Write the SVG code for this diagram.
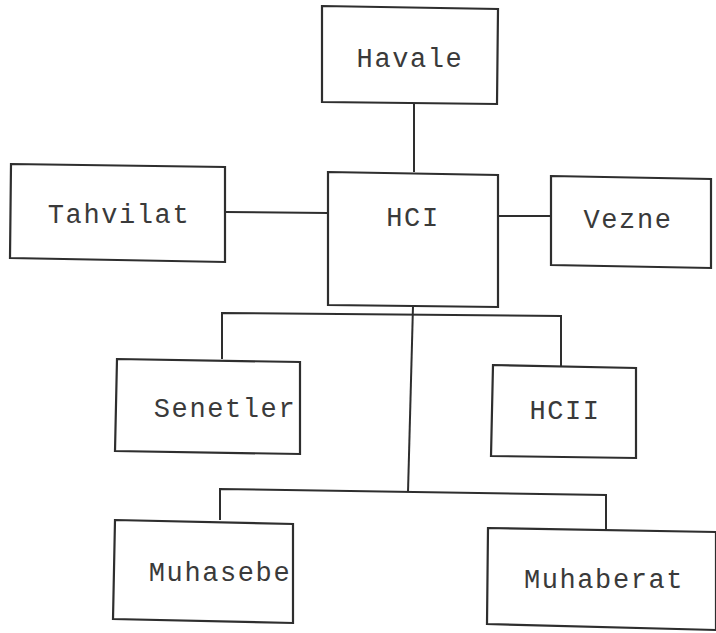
<svg xmlns="http://www.w3.org/2000/svg" width="716" height="633" viewBox="0 0 716 633">
<style>
.box{fill:none;stroke:#2e2e2e;stroke-width:2.2;stroke-linejoin:miter}
.ln{fill:none;stroke:#2e2e2e;stroke-width:2}
.t{font-family:"Liberation Mono","Courier New",monospace;font-size:27px;letter-spacing:1.6px;fill:#3a3a3a;text-anchor:middle}
</style>
<rect width="716" height="633" fill="#ffffff"/>
<g id="connectors">
<path class="ln" d="M414,103 L414,172"/>
<path class="ln" d="M225,212 L328,213"/>
<path class="ln" d="M498,216 L551,216"/>
<path class="ln" d="M413,306 L408,492"/>
<path class="ln" d="M222,359 L222,313 L561,316 L561,366"/>
<path class="ln" d="M220,520 L220,489 L606,495 L606,529"/>
</g>
<g id="havale">
<polygon class="box" points="322,6 498,9 497,104 322,102"/>
<text class="t" x="410" y="67">Havale</text>
</g>
<g id="tahvilat">
<polygon class="box" points="11,164 225,167 225,262 10,258"/>
<text class="t" x="119" y="223">Tahvilat</text>
</g>
<g id="hci">
<polygon class="box" points="328,172 498,175 498,307 328,305"/>
<text class="t" x="413" y="226">HCI</text>
</g>
<g id="vezne">
<polygon class="box" points="551,176 711,179 711,268 551,265"/>
<text class="t" x="628" y="228">Vezne</text>
</g>
<g id="senetler">
<polygon class="box" points="117,359 300,362 300,454 115,451"/>
<text class="t" x="225" y="417">Senetler</text>
</g>
<g id="hcii">
<polygon class="box" points="493,365 636,368 636,458 491,456"/>
<text class="t" x="565" y="419">HCII</text>
</g>
<g id="muhasebe">
<polygon class="box" points="115,520 293,524 293,623 113,619"/>
<text class="t" x="220" y="581">Muhasebe</text>
</g>
<g id="muhaberat">
<polygon class="box" points="488,528 716,532 716,630 487,624"/>
<text class="t" x="604" y="588">Muhaberat</text>
</g>
</svg>
